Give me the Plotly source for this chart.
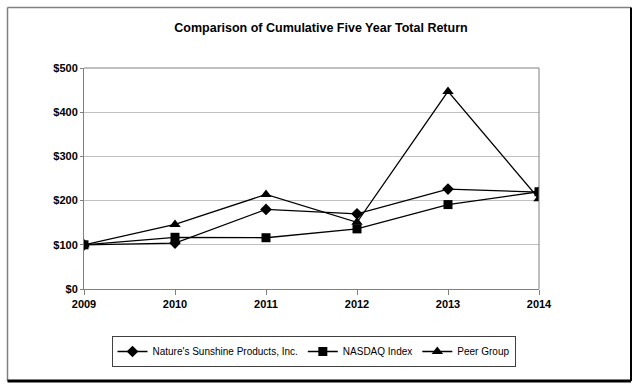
import plotly.graph_objects as go

years = [2009, 2010, 2011, 2012, 2013, 2014]
natures_sunshine = [100, 104, 180, 170, 226, 219]
nasdaq_index = [100, 117, 116, 136, 191, 220]
peer_group = [100, 146, 214, 151, 447, 204]
y_ticks = [0, 100, 200, 300, 400, 500]
y_tick_labels = ["$0", "$100", "$200", "$300", "$400", "$500"]

fig = go.Figure()
series = [
    ("Nature's Sunshine Products, Inc.", natures_sunshine, "diamond", 9),
    ("NASDAQ Index", nasdaq_index, "square", 9),
    ("Peer Group", peer_group, "triangle-up", 10),
]
for name, vals, sym, sz in series:
    fig.add_trace(go.Scatter(
        x=years, y=vals, name=name, mode="lines+markers",
        line=dict(color="black", width=1.3),
        marker=dict(symbol=sym, size=sz, color="black"),
    ))

W, H = 638, 388
L, R, T, B = 84, 539, 68, 289
pw, ph = R - L, B - T

def px(x):
    return (x - L) / pw

def py(y):
    return (B - y) / ph

shapes = [
    dict(type="line", xref="paper", yref="paper", x0=px(7.5), x1=px(7.5), y0=py(7.5), y1=py(381), line=dict(color="#808080", width=1.5)),
    dict(type="line", xref="paper", yref="paper", x0=px(7.5), x1=px(631), y0=py(7.5), y1=py(7.5), line=dict(color="#808080", width=1.5)),
    dict(type="line", xref="paper", yref="paper", x0=px(631), x1=px(631), y0=py(7.5), y1=py(381), line=dict(color="black", width=2)),
    dict(type="line", xref="paper", yref="paper", x0=px(7.5), x1=px(631), y0=py(381), y1=py(381), line=dict(color="black", width=3)),
    dict(type="line", xref="paper", yref="paper", x0=0, x1=1, y0=1, y1=1, line=dict(color="#808080", width=1)),
    dict(type="line", xref="paper", yref="paper", x0=1, x1=1, y0=0, y1=1, line=dict(color="#808080", width=1)),
]

fig.update_layout(
    width=W, height=H,
    margin=dict(l=L, r=W - R, t=T, b=H - B, pad=0, autoexpand=False),
    paper_bgcolor="white", plot_bgcolor="white",
    font=dict(family="Arial, Liberation Sans, sans-serif", color="black"),
    title=dict(text="Comparison of Cumulative Five Year Total Return",
               x=321 / W, xanchor="center", y=1 - 28 / H, yanchor="middle",
               font=dict(size=12.5, weight="bold", color="black")),
    xaxis=dict(range=[2009, 2014], tickvals=years, ticktext=[str(y) for y in years],
               showgrid=False, showline=True, linecolor="#808080", linewidth=1,
               ticks="outside", ticklen=5, tickcolor="#808080",
               tickfont=dict(size=11, weight="bold", color="black"), zeroline=False),
    yaxis=dict(range=[0, 500], tickvals=y_ticks, ticktext=y_tick_labels,
               showgrid=True, gridcolor="#c0c0c0", gridwidth=1,
               showline=True, linecolor="#808080", linewidth=1,
               ticks="outside", ticklen=3, tickcolor="#808080",
               tickfont=dict(size=11, weight="bold", color="black"), zeroline=False),
    legend=dict(orientation="h", x=px(313.5), xanchor="center", y=py(336), yanchor="top",
                bordercolor="#404040", borderwidth=1, bgcolor="white",
                font=dict(size=10, color="black"), itemwidth=30,
                tracegroupgap=0),
    shapes=shapes,
    showlegend=True,
)

fig.write_html("out.html", config={"displayModeBar": False},
               post_script="document.body.style.margin='0px';")
